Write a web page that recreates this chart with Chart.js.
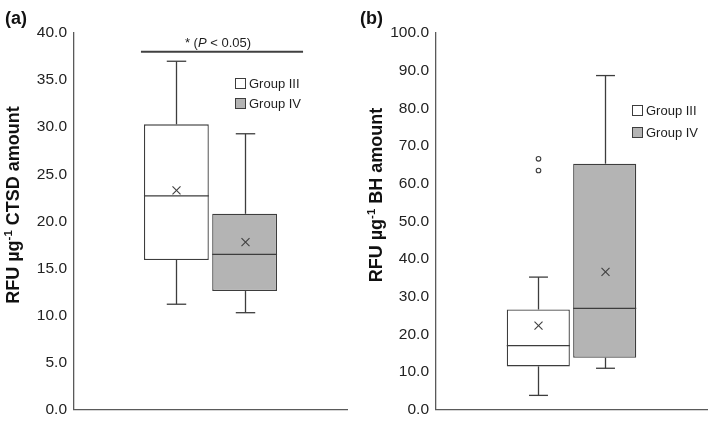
<!DOCTYPE html>
<html>
<head>
<meta charset="utf-8">
<script src="https://cdn.jsdelivr.net/npm/chart.js@4.4.0/dist/chart.umd.min.js"></script>
<style>
  html, body { margin: 0; padding: 0; background: #fff; }
  #wrap { position: relative; width: 709px; height: 426px; }
  canvas { position: absolute; top: 0; }
</style>
</head>
<body>
<div id="wrap">
  <canvas id="ctsdChart" width="355" height="426" style="left:0px"></canvas>
  <canvas id="bhChart" width="354" height="426" style="left:355px"></canvas>
</div>
<script>
const groups = ["Group III", "Group IV"];

// (a) CTSD
const ctsdMin = [11.2, 10.3];
const ctsdQ1 = [15.9, 12.6];
const ctsdMedian = [22.7, 16.5];
const ctsdQ3 = [30.3, 20.8];
const ctsdMax = [37.0, 29.3];
const ctsdMean = [23.3, 17.8];
const ctsdOutliers = [[], []];
const ctsdTicks = [0, 5, 10, 15, 20, 25, 30, 35, 40];
const ctsdSignif = 38.0;

// (b) BH
const bhMin = [3.8, 11.0];
const bhQ1 = [11.5, 13.8];
const bhMedian = [17.0, 26.9];
const bhQ3 = [26.6, 65.3];
const bhMax = [35.2, 88.7];
const bhMean = [22.3, 36.6];
const bhOutliers = [[66.6, 63.5], []];
const bhTicks = [0, 10, 20, 30, 40, 50, 60, 70, 80, 90, 100];

const FONT = "'Liberation Sans', Arial, sans-serif";
const EDGE = "#3d3d3d";
const AXIS = "#5a5a5a";
const FILLS = ["#ffffff", "#b4b4b4"];

// whiskers, medians, means, outliers, legend and labels
const boxDetails = {
  id: "boxDetails",
  afterDatasetsDraw(chart, args, opts) {
    const ctx = chart.ctx;
    const y = chart.scales.y;
    ctx.save();
    ctx.strokeStyle = EDGE;
    ctx.lineWidth = 1.3;
    chart.data.datasets.forEach((ds, i) => {
      const bar = chart.getDatasetMeta(i).data[0];
      const cx = Math.round(bar.x) + 0.5;
      const half = bar.width / 2;
      const cap = bar.width * 0.15;
      const line = (x1, y1, x2, y2) => {
        ctx.beginPath(); ctx.moveTo(x1, y1); ctx.lineTo(x2, y2); ctx.stroke();
      };
      const yMin = y.getPixelForValue(opts.min[i]);
      const yQ1 = y.getPixelForValue(opts.q1[i]);
      const yQ3 = y.getPixelForValue(opts.q3[i]);
      const yMax = y.getPixelForValue(opts.max[i]);
      const yMed = y.getPixelForValue(opts.median[i]);
      line(cx, yQ3, cx, yMax);
      line(cx - cap, yMax, cx + cap, yMax);
      line(cx, yQ1, cx, yMin);
      line(cx - cap, yMin, cx + cap, yMin);
      line(bar.x - half, yMed, bar.x + half, yMed);
      const ym = y.getPixelForValue(opts.mean[i]);
      ctx.lineWidth = 1.1;
      line(cx - 4, ym - 4, cx + 4, ym + 4);
      line(cx - 4, ym + 4, cx + 4, ym - 4);
      opts.outliers[i].forEach(v => {
        const yo = y.getPixelForValue(v);
        ctx.beginPath();
        ctx.arc(cx, yo, 2.3, 0, Math.PI * 2);
        ctx.fillStyle = "#fff";
        ctx.fill();
        ctx.stroke();
      });
      ctx.lineWidth = 1.3;
    });

    // legend
    ctx.font = "13px " + FONT;
    ctx.textBaseline = "middle";
    chart.data.datasets.forEach((ds, i) => {
      const ly = opts.legend.y + i * opts.legend.gap;
      ctx.fillStyle = ds.backgroundColor;
      ctx.fillRect(opts.legend.x, ly, 11, 11);
      ctx.lineWidth = 1;
      ctx.strokeStyle = EDGE;
      ctx.strokeRect(opts.legend.x + 0.5, ly + 0.5, 10, 10);
      ctx.fillStyle = "#1e1e1e";
      ctx.fillText(ds.label, opts.legend.x + 14, ly + 6);
    });

    // significance bar
    if (opts.signif != null) {
      const b0 = chart.getDatasetMeta(0).data[0];
      const b1 = chart.getDatasetMeta(1).data[0];
      const x1 = b0.x - b0.width / 2 - 3;
      const x2 = b1.x + b1.width / 2 + 26;
      const ys = y.getPixelForValue(opts.signif);
      ctx.strokeStyle = "#404040";
      ctx.lineWidth = 2;
      ctx.beginPath(); ctx.moveTo(x1, ys); ctx.lineTo(x2, ys); ctx.stroke();
      const parts = [["* (", "13px "], ["P", "italic 13px "], [" < 0.05)", "13px "]];
      let total = 0;
      parts.forEach(p => { ctx.font = p[1] + FONT; total += ctx.measureText(p[0]).width; });
      let tx = (x1 + x2) / 2 - total / 2 - 4;
      ctx.fillStyle = "#1e1e1e";
      ctx.textBaseline = "alphabetic";
      parts.forEach(p => {
        ctx.font = p[1] + FONT;
        ctx.fillText(p[0], tx, ys - 5);
        tx += ctx.measureText(p[0]).width;
      });
    }

    // y title with superscript
    ctx.save();
    ctx.translate(opts.title.x, opts.title.y);
    ctx.rotate(-Math.PI / 2);
    ctx.fillStyle = "#111";
    ctx.textBaseline = "alphabetic";
    const tParts = [["RFU \u00b5g", "bold 18px ", 0], ["-1", "bold 11.5px ", -7.5], [" " + opts.title.text, "bold 18px ", 0]];
    let tw = 0;
    tParts.forEach(p => { ctx.font = p[1] + FONT; tw += ctx.measureText(p[0]).width; });
    let px = -tw / 2;
    tParts.forEach(p => {
      ctx.font = p[1] + FONT;
      ctx.fillText(p[0], px, p[2]);
      px += ctx.measureText(p[0]).width;
    });
    ctx.restore();

    // panel letter
    ctx.font = "bold 18px " + FONT;
    ctx.fillStyle = "#111";
    ctx.textBaseline = "alphabetic";
    ctx.fillText(opts.panel, 5, 24);
    ctx.restore();
  }
};

function makeChart(id, d) {
  return new Chart(document.getElementById(id), {
    type: "bar",
    data: {
      labels: [""],
      datasets: groups.map((g, i) => ({
        label: g,
        data: [[d.q1[i], d.q3[i]]],
        backgroundColor: FILLS[i],
        borderColor: EDGE,
        borderWidth: 1.3,
        borderSkipped: false,
        categoryPercentage: d.catPct,
        barPercentage: 0.95,
      })),
    },
    options: {
      responsive: false,
      animation: false,
      devicePixelRatio: 1,
      layout: { padding: { top: 33, bottom: 11, left: 0, right: d.padRight } },
      plugins: {
        legend: { display: false },
        tooltip: { enabled: false },
        boxDetails: d,
      },
      scales: {
        x: {
          grid: { display: false },
          ticks: { display: false },
          border: { display: true, color: AXIS, width: 1.3 },
          afterFit: (s) => { s.height = 0; },
        },
        y: {
          min: d.ticks[0],
          max: d.ticks[d.ticks.length - 1],
          afterBuildTicks: (s) => { s.ticks = d.ticks.map(v => ({ value: v })); },
          afterFit: (s) => { s.width = d.axisLeft; },
          grid: { display: false, drawTicks: false },
          border: { display: true, color: AXIS, width: 1.3 },
          ticks: {
            padding: 7,
            color: "#222",
            font: { family: FONT, size: 15.5 },
            callback: (v) => Number(v).toFixed(1),
          },
        },
      },
    },
    plugins: [boxDetails],
  });
}

makeChart("ctsdChart", {
  min: ctsdMin, q1: ctsdQ1, median: ctsdMedian, q3: ctsdQ3, max: ctsdMax,
  mean: ctsdMean, outliers: ctsdOutliers, ticks: ctsdTicks, signif: ctsdSignif,
  catPct: 0.5, padRight: 8, axisLeft: 74,
  legend: { x: 235, y: 78, gap: 20 },
  title: { x: 19, y: 205, text: "CTSD amount" },
  panel: "(a)",
});

makeChart("bhChart", {
  min: bhMin, q1: bhQ1, median: bhMedian, q3: bhQ3, max: bhMax,
  mean: bhMean, outliers: bhOutliers, ticks: bhTicks, signif: null,
  catPct: 0.49, padRight: 2, axisLeft: 81,
  legend: { x: 277, y: 105, gap: 22 },
  title: { x: 27, y: 195, text: "BH amount" },
  panel: "(b)",
});
</script>
</body>
</html>
